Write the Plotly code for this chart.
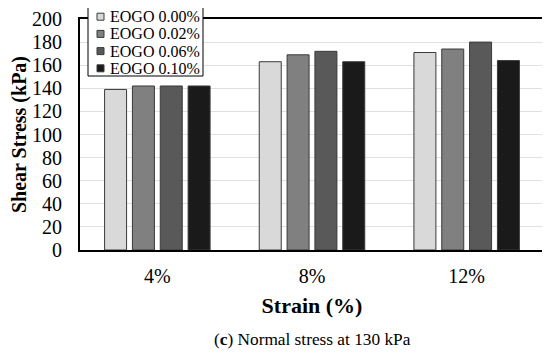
import plotly.graph_objects as go

categories = ["4%", "8%", "12%"]
series_names = ["EOGO 0.00%", "EOGO 0.02%", "EOGO 0.06%", "EOGO 0.10%"]
values_000 = [139, 163, 171]
values_002 = [142, 169, 174]
values_006 = [142, 172, 180]
values_010 = [142, 163, 164]
colors = ["#d9d9d9", "#808080", "#595959", "#1a1a1a"]

FONT = "Liberation Serif"
# plot area in page pixels (page has an 8px body margin)
PX0, PX1, PY0, PY1 = 80, 544, 19, 250


def px(x):
    return (x - PX0) / (PX1 - PX0)


def py(y):
    return (PY1 - y) / (PY1 - PY0)


fig = go.Figure()
for name, vals, col in zip(series_names, [values_000, values_002, values_006, values_010], colors):
    fig.add_trace(go.Bar(x=categories, y=vals, name=name, showlegend=False,
                         marker=dict(color=col, line=dict(color="#3a3a3a", width=1))))

shapes = []
annotations = []
# legend box
shapes.append(dict(type="rect", xref="paper", yref="paper", x0=px(88), x1=px(203), y0=py(76), y1=py(7.5),
                   fillcolor="white", line=dict(color="black", width=1), layer="above"))
row0, step = 16.7, 17.2
for i, (name, col) in enumerate(zip(series_names, colors)):
    yc = row0 + i * step
    shapes.append(dict(type="rect", xref="paper", yref="paper", x0=px(97), x1=px(104),
                       y0=py(yc + 3.5), y1=py(yc - 3.5), fillcolor=col,
                       line=dict(color="#3a3a3a", width=1), layer="above"))
    annotations.append(dict(text=name, xref="paper", yref="paper", x=px(108), y=py(yc),
                            xanchor="left", yanchor="middle", showarrow=False,
                            font=dict(family=FONT, size=16, color="black")))

annotations.append(dict(text="(<b>c</b>) Normal stress at 130 kPa", xref="paper", yref="paper",
                        x=0.5, y=py(339), xanchor="center", yanchor="middle", showarrow=False,
                        font=dict(family=FONT, size=17.3, color="black")))

fig.update_layout(
    width=550, height=356,
    margin=dict(l=72, r=14, t=11, b=114, autoexpand=False),
    paper_bgcolor="white", plot_bgcolor="white",
    barmode="group", bargap=0.28, bargroupgap=0.21,
    font=dict(family=FONT, color="black"),
    showlegend=False,
    shapes=shapes, annotations=annotations,
)
fig.update_yaxes(range=[0, 200], dtick=20, showgrid=True, gridcolor="#e0e0e0", gridwidth=1,
                 tickfont=dict(family=FONT, size=20), ticks="", ticklabelstandoff=12,
                 showline=True, linecolor="black", linewidth=2, mirror=True, automargin=False,
                 title=dict(text="<b>Shear Stress (kPa)</b>", font=dict(family=FONT, size=20), standoff=5),
                 zeroline=False)
fig.update_xaxes(tickfont=dict(family=FONT, size=20), ticks="", ticklabelstandoff=7,
                 showline=True, linecolor="black", linewidth=2, mirror=True, automargin=False,
                 title=dict(text="<b>Strain (%)</b>", font=dict(family=FONT, size=22), standoff=12))
fig.write_html("out.html")
